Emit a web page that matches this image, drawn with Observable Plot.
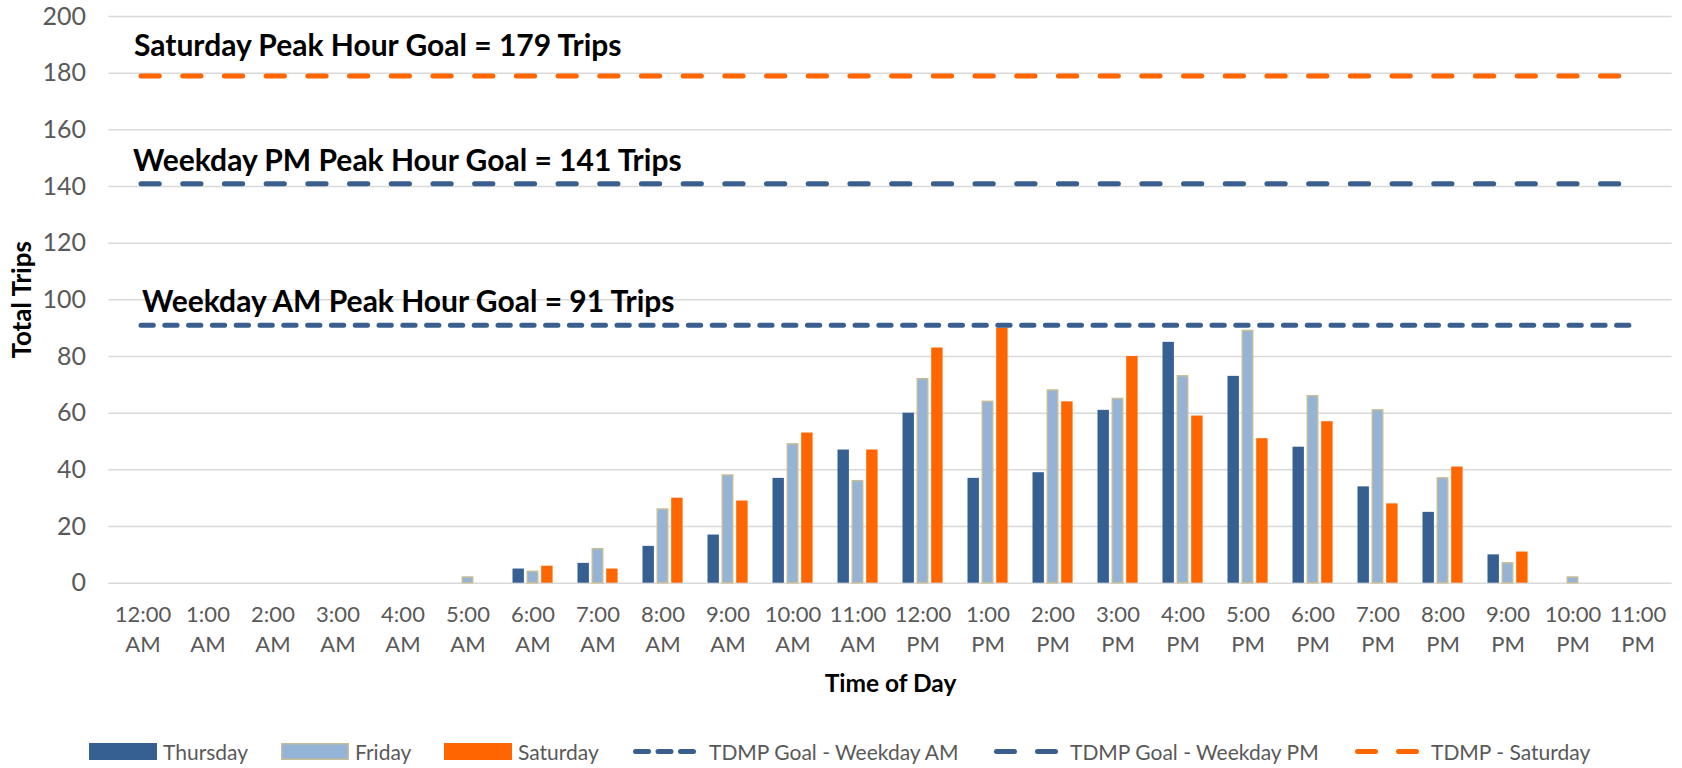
<!DOCTYPE html>
<html>
<head>
<meta charset="utf-8">
<script src="https://cdn.jsdelivr.net/npm/d3@7"></script>
<script src="https://cdn.jsdelivr.net/npm/@observablehq/plot@0.6"></script>
<style>
  html, body { margin: 0; padding: 0; background: #fff; overflow: hidden; }
  #wrap { position: relative; width: 1682px; height: 768px; }
  #legend { position: absolute; left: 0; top: 739px; width: 1682px; height: 24px;
            font-family: Lato, sans-serif; font-size: 21px; color: #595959; white-space: nowrap; }
  .item { position: absolute; top: 0; height: 24px; display: flex; align-items: center; }
  .item svg { margin-right: 6px; }
  .item.line svg { margin-right: 8px; }
  svg text { font-family: Lato, sans-serif; }
</style>
</head>
<body>
<div id="wrap"><div id="chart"></div><div id="legend"></div></div>
<script>
// ---- data ----
const hours = ["12:00 AM","1:00 AM","2:00 AM","3:00 AM","4:00 AM","5:00 AM","6:00 AM","7:00 AM","8:00 AM","9:00 AM","10:00 AM","11:00 AM",
               "12:00 PM","1:00 PM","2:00 PM","3:00 PM","4:00 PM","5:00 PM","6:00 PM","7:00 PM","8:00 PM","9:00 PM","10:00 PM","11:00 PM"];
const seriesNames = ["Thursday", "Friday", "Saturday"];
const thursday = [0,0,0,0,0,0,5,7,13,17,37,47,60,37,39,61,85,73,48,34,25,10,0,0];
const friday   = [0,0,0,0,0,2,4,12,26,38,49,36,72,64,68,65,73,89,66,61,37,7,2,0];
const saturday = [0,0,0,0,0,0,6,5,30,29,53,47,83,90,64,80,59,51,57,28,41,11,0,0];
const goalNames  = ["TDMP Goal - Weekday AM", "TDMP Goal - Weekday PM", "TDMP - Saturday"];
const goalValues = [91, 141, 179];
const goalLabels = ["Weekday AM Peak Hour Goal = 91 Trips", "Weekday PM Peak Hour Goal = 141 Trips", "Saturday Peak Hour Goal = 179 Trips"];
const yTicks = [0, 20, 40, 60, 80, 100, 120, 140, 160, 180, 200];
const xTitle = "Time of Day";
const yTitle = "Total Trips";

// ---- styles ----
const barColors = ["#376092", "#95B3D7", "#FF6600"];
const barStroke = [null, "#C4BD97", null];
const barDx = [-14.3, 0, 14.4];
const barInset = [26.8, 27.3, 26.8];
const goalColors = ["#3A5F8E", "#3A5F8E", "#FF6600"];
const goalDash = ["12.3 11.5", "18.3 23.4", "18.3 23.4"];
const legendDash = ["13 9.5", "18 23", "18 23"];
const labelDx = [-1, -10, -9];
const labelDy = [-13, -13, -20];
const legendSeriesLeft = [89, 281, 444];
const legendGoalLeft = [633, 994, 1355];

const values = [thursday, friday, saturday];
const rows = [];
seriesNames.forEach((s, si) => hours.forEach((h, hi) => rows.push({hour: h, series: s, value: values[si][hi]})));

const marks = [
  Plot.gridY(yTicks, {stroke: "#D9D9D9", strokeOpacity: 1, strokeWidth: 1.5}),
  Plot.axisY(yTicks, {tickSize: 0, tickPadding: 23, fontSize: 25, fontFamily: "Liberation Serif", color: "#595959", label: null}),
  Plot.axisX({tickSize: 0, tickPadding: 18, fontSize: 22, color: "#595959", lineHeight: 1.35, label: null,
              tickFormat: d => d.replace(" ", "\n")})
];
seriesNames.forEach((s, si) => {
  marks.push(Plot.barY(rows.filter(d => d.series === s && d.value > 0), {
    x: "hour", y: "value", fill: barColors[si],
    stroke: barStroke[si] || "none", strokeWidth: 1.5,
    insetLeft: barInset[si], insetRight: barInset[si], dx: barDx[si]
  }));
});
goalValues.forEach((g, gi) => {
  marks.push(Plot.ruleY([g], {stroke: goalColors[gi], strokeWidth: 5, strokeLinecap: "round",
    strokeDasharray: goalDash[gi], insetLeft: 32.6, insetRight: 32.6}));
  marks.push(Plot.text([g], {x: () => hours[0], y: d => d, text: () => goalLabels[gi], textAnchor: "start",
    lineAnchor: "bottom", dx: labelDx[gi], dy: labelDy[gi], fontSize: 30, fontWeight: "bold", fill: "#000"}));
});
marks.push(Plot.text([xTitle], {frameAnchor: "bottom", dy: 101, fontSize: 24.5, fontWeight: "bold", fill: "#000", lineAnchor: "middle"}));
marks.push(Plot.text([yTitle], {frameAnchor: "left", dx: -86, rotate: -90, textAnchor: "middle", fontSize: 26, fontWeight: "bold", fill: "#000", lineAnchor: "middle"}));

const chart = Plot.plot({
  width: 1682, height: 720,
  marginLeft: 108.4, marginRight: 10.4, marginTop: 16, marginBottom: 137.3,
  style: {fontFamily: "Lato, sans-serif", background: "#fff", overflow: "visible"},
  x: {type: "band", domain: hours, padding: 0},
  y: {domain: [0, 200]},
  marks
});
document.getElementById("chart").appendChild(chart);

// ---- legend ----
const legend = document.getElementById("legend");
seriesNames.forEach((s, si) => {
  const it = document.createElement("div"); it.className = "item";
  it.style.left = legendSeriesLeft[si] + "px";
  const sw = barStroke[si]
    ? `<svg width="68" height="17"><rect x="0.75" y="0.75" width="66.5" height="15.5" fill="${barColors[si]}" stroke="${barStroke[si]}" stroke-width="1.5"/></svg>`
    : `<svg width="68" height="17"><rect x="0" y="0" width="68" height="17" fill="${barColors[si]}"/></svg>`;
  it.innerHTML = sw + `<span>${s}</span>`;
  legend.appendChild(it);
});
goalNames.forEach((g, gi) => {
  const it = document.createElement("div"); it.className = "item line";
  it.style.left = legendGoalLeft[gi] + "px";
  it.innerHTML = `<svg width="68" height="17"><line x1="2.5" x2="65.5" y1="8.5" y2="8.5" stroke="${goalColors[gi]}" stroke-width="5" stroke-linecap="round" stroke-dasharray="${legendDash[gi]}"/></svg><span>${g}</span>`;
  legend.appendChild(it);
});
</script>
</body>
</html>
